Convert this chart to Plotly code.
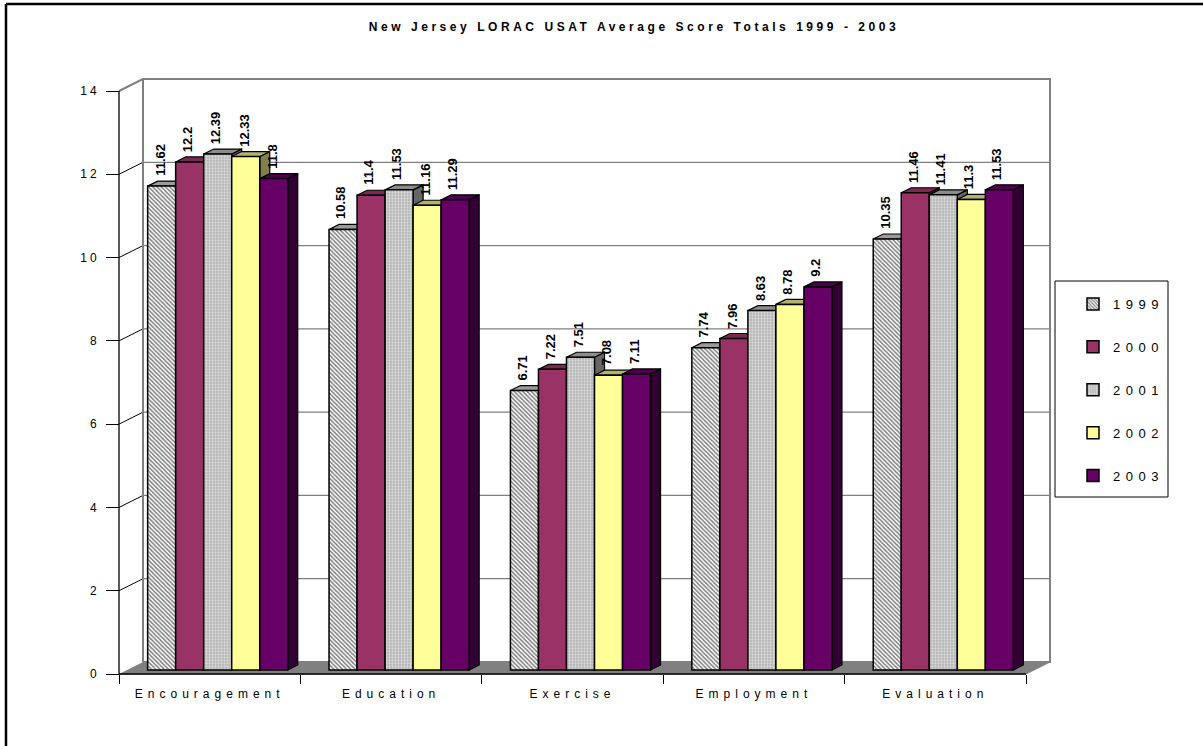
import plotly.graph_objects as go

# ---- data -------------------------------------------------------------
categories = ["Encouragement", "Education", "Exercise", "Employment", "Evaluation"]
years = ["1999", "2000", "2001", "2002", "2003"]
s1999 = [11.62, 10.58, 6.71, 7.74, 10.35]
s2000 = [12.2, 11.4, 7.22, 7.96, 11.46]
s2001 = [12.39, 11.53, 7.51, 8.63, 11.41]
s2002 = [12.33, 11.16, 7.08, 8.78, 11.3]
s2003 = [11.8, 11.29, 7.11, 9.2, 11.53]
y_ticks = [0, 2, 4, 6, 8, 10, 12, 14]
chart_title = "New Jersey LORAC USAT Average Score Totals 1999 - 2003"

series = [s1999, s2000, s2001, s2002, s2003]

# ---- page geometry (pixels) -------------------------------------------
W, H = 1203, 746
ML, MR, MT, MB = 112, 150, 74, 66
plot_w = W - ML - MR
plot_h = H - MT - MB
axis_left_px = 119          # front vertical axis
axis_right_px = 1026        # end of front category axis
axis_bottom_px = 674        # front floor edge (value 0)
axis_top_px = 91            # value 14 on the front axis

xpu = (axis_right_px - axis_left_px) / len(categories)       # px per category
ypu = (axis_bottom_px - axis_top_px) / y_ticks[-1]           # px per value unit

x_lo = -0.5 - (axis_left_px - ML) / xpu
x_hi = x_lo + plot_w / xpu
y_lo = -((H - MB) - axis_bottom_px) / ypu
y_hi = y_lo + plot_h / ypu


def dxu(px):
    return px / xpu


def dyu(px):
    return px / ypu


def px_to_paper_x(px):
    return (px - ML) / plot_w


def px_to_paper_y(py):
    return ((H - MB) - py) / plot_h


# 3-D depth offsets (oblique projection)
wall_dx, wall_dy = dxu(24), dyu(12)      # floor / wall depth
plane_dx, plane_dy = dxu(8), dyu(4)      # where the columns stand
bar_dx, bar_dy = dxu(10), dyu(5)         # depth of each column

gap = 0.2275
slot = (1 - gap) / len(years)

styles = [
    dict(color="#ffffff", pattern=dict(shape="\\", fgcolor="#000000", bgcolor="#ffffff",
                                      size=3, solidity=0.5),
         top="#9a9a9a", side="#5a5a5a"),
    dict(color="#993366", pattern=None, top="#7a2952", side="#4d1a33"),
    dict(color="#c0c0c0", pattern=dict(shape=".", fgcolor="#ffffff", bgcolor="#b4b4b4",
                                      size=3, solidity=0.45),
         top="#8c8c8c", side="#666666"),
    dict(color="#ffff99", pattern=None, top="#b3b36b", side="#80804d"),
    dict(color="#660066", pattern=None, top="#4d004d", side="#330033"),
]

FONT = "Arial, Liberation Sans, sans-serif"


def spaced(text, px):
    return f"<span style='letter-spacing:{px}px'>{text}</span>"


fig = go.Figure()

# ---- columns (front faces) ----------------------------------------------
for k, (yr, vals, st) in enumerate(zip(years, series, styles)):
    marker = dict(color=st["color"], line=dict(color="#000000", width=1.5))
    if st["pattern"]:
        marker["pattern"] = st["pattern"]
    fig.add_trace(go.Bar(
        x=[i + plane_dx for i in range(len(categories))],
        y=vals,
        base=plane_dy,
        name=spaced(yr, 5.5),
        legendgroup=yr,
        marker=marker,
        hoverinfo="skip",
    ))

shapes = []

# ---- walls and floor -------------------------------------------------
xl, xr = -0.5, len(categories) - 0.5
ytop = y_ticks[-1]
GRAY = "#808080"
shapes.append(dict(type="path", layer="below", xref="x", yref="y",
                   path=f"M{xl},0 L{xr},0 L{xr + wall_dx},{wall_dy} L{xl + wall_dx},{wall_dy} Z",
                   fillcolor=GRAY, line=dict(color=GRAY, width=1)))
shapes.append(dict(type="rect", layer="below", xref="x", yref="y",
                   x0=xl + wall_dx, x1=xr + wall_dx, y0=wall_dy, y1=ytop + wall_dy,
                   fillcolor="#ffffff", line=dict(color=GRAY, width=2)))
shapes.append(dict(type="path", layer="below", xref="x", yref="y",
                   path=f"M{xl},0 L{xl + wall_dx},{wall_dy} L{xl + wall_dx},{ytop + wall_dy} L{xl},{ytop} Z",
                   fillcolor="#ffffff", line=dict(width=0)))
# gridlines on the back wall and their runs across the side wall
for v in y_ticks[1:]:
    is_top = v == ytop
    shapes.append(dict(type="line", layer="below", xref="x", yref="y",
                       x0=xl + wall_dx, x1=xr + wall_dx, y0=v + wall_dy, y1=v + wall_dy,
                       line=dict(color=GRAY, width=2 if is_top else 1.3)))
    shapes.append(dict(type="line", layer="below", xref="x", yref="y",
                       x0=xl, x1=xl + wall_dx, y0=v, y1=v + wall_dy,
                       line=dict(color=GRAY if is_top else "#000000", width=2 if is_top else 1)))
# left back edge of the wall
shapes.append(dict(type="line", layer="below", xref="x", yref="y",
                   x0=xl + wall_dx, x1=xl + wall_dx, y0=wall_dy, y1=ytop + wall_dy,
                   line=dict(color=GRAY, width=2)))
# front axis lines
shapes.append(dict(type="line", layer="below", xref="x", yref="y",
                   x0=xl, x1=xl, y0=0, y1=ytop, line=dict(color="#000000", width=1.3)))
shapes.append(dict(type="line", layer="below", xref="x", yref="y",
                   x0=xl, x1=xr, y0=0, y1=0, line=dict(color="#000000", width=1.3)))

# ---- column tops and right-hand sides --------------------------------------
annotations = []
for k, (vals, st) in enumerate(zip(series, styles)):
    for i, v in enumerate(vals):
        cx = i + plane_dx + (k - 2) * slot
        x0, x1 = cx - slot / 2, cx + slot / 2
        yb, yt = plane_dy, plane_dy + v
        shapes.append(dict(type="path", layer="between", xref="x", yref="y",
                           path=(f"M{x1},{yb} L{x1 + bar_dx},{yb + bar_dy} "
                                 f"L{x1 + bar_dx},{yt + bar_dy} L{x1},{yt} Z"),
                           fillcolor=st["side"], line=dict(color="#000000", width=1.2)))
        shapes.append(dict(type="path", layer="between", xref="x", yref="y",
                           path=(f"M{x0},{yt} L{x0 + bar_dx},{yt + bar_dy} "
                                 f"L{x1 + bar_dx},{yt + bar_dy} L{x1},{yt} Z"),
                           fillcolor=st["top"], line=dict(color="#000000", width=1.2)))
        annotations.append(dict(
            x=cx, y=yt, xref="x", yref="y", text=f"<b>{v}</b>",
            textangle=-90, showarrow=False, xanchor="center", yanchor="bottom",
            yshift=8, xshift=-2, font=dict(family=FONT, size=13, color="#000000"),
        ))

# ---- outer chart border (left and top edges) --------------------------------
shapes.append(dict(type="line", layer="above", xref="paper", yref="paper",
                   x0=px_to_paper_x(6), x1=px_to_paper_x(6),
                   y0=px_to_paper_y(H), y1=px_to_paper_y(4),
                   line=dict(color="#000000", width=2.5)))
shapes.append(dict(type="line", layer="above", xref="paper", yref="paper",
                   x0=px_to_paper_x(6), x1=px_to_paper_x(W),
                   y0=px_to_paper_y(4), y1=px_to_paper_y(4),
                   line=dict(color="#000000", width=2.5)))

# ---- legend frame ------------------------------------------------------
leg_l, leg_r, leg_t, leg_b = 1055, 1168, 281, 497
shapes.append(dict(type="rect", layer="above", xref="paper", yref="paper",
                   x0=px_to_paper_x(leg_l), x1=px_to_paper_x(leg_r),
                   y0=px_to_paper_y(leg_b), y1=px_to_paper_y(leg_t),
                   line=dict(color="#000000", width=1), fillcolor="rgba(0,0,0,0)"))

fig.update_layout(
    width=W, height=H,
    margin=dict(l=ML, r=MR, t=MT, b=MB, pad=0),
    paper_bgcolor="#ffffff", plot_bgcolor="rgba(0,0,0,0)",
    barmode="group", bargap=gap, bargroupgap=0,
    font=dict(family=FONT, color="#000000"),
    title=dict(text=f"<b>{spaced(chart_title, 3.55)}</b>",
               x=634 / W, xref="container", xanchor="center",
               y=1 - 27 / H, yref="container", yanchor="middle",
               font=dict(family=FONT, size=12, color="#000000")),
    xaxis=dict(range=[x_lo, x_hi], showgrid=False, zeroline=False, showline=False,
               tickmode="array", tickvals=list(range(len(categories))),
               ticktext=[spaced(c, 5) for c in categories],
               ticks="", ticklabelstandoff=11,
               tickfont=dict(family=FONT, size=12, color="#000000"),
               minor=dict(tickmode="array",
                          tickvals=[i - 0.5 for i in range(len(categories) + 1)],
                          ticks="outside", ticklen=9, tickwidth=1.3, tickcolor="#000000"),
               anchor="free", position=px_to_paper_y(axis_bottom_px)),
    yaxis=dict(range=[y_lo, y_hi], showgrid=False, zeroline=False, showline=False,
               tickmode="array", tickvals=y_ticks,
               ticktext=[spaced(v, 3) for v in y_ticks],
               ticks="outside", ticklen=13, tickwidth=1.3, tickcolor="#000000",
               ticklabelstandoff=4,
               tickfont=dict(family=FONT, size=12, color="#000000"),
               anchor="free", position=px_to_paper_x(axis_left_px)),
    legend=dict(x=px_to_paper_x(1073), xanchor="left",
                y=px_to_paper_y(289), yanchor="top",
                borderwidth=0, bgcolor="rgba(0,0,0,0)",
                font=dict(family=FONT, size=13, color="#000000"),
                traceorder="grouped", tracegroupgap=23, itemwidth=30),
    shapes=shapes,
    annotations=annotations,
    showlegend=True,
)

fig.write_html("out.html")
